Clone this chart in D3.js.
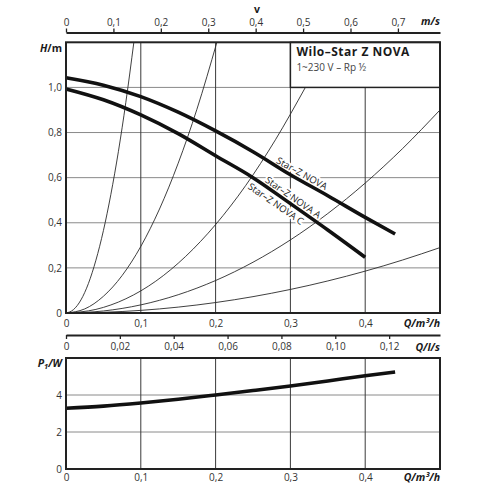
<!DOCTYPE html>
<html>
<head>
<meta charset="utf-8">
<script src="https://cdn.jsdelivr.net/npm/d3@7"></script>
<style>
  body { margin: 0; background: #fff; }
  text { font-family: "Open Sans", "Noto Sans", sans-serif; }
  .tick text { font-size: 10px; fill: #333; }
  .unit { font-size: 10.5px; font-weight: bold; fill: #1a1a1a; }
</style>
</head>
<body>
<script>
// pump curves H(Q)
const pumpQ = [0, 0.05, 0.1, 0.15, 0.2, 0.25, 0.3, 0.35, 0.4, 0.44];
const headNova = [1.043, 1.01, 0.959, 0.89, 0.807, 0.715, 0.613, 0.52, 0.424, 0.35];
const pumpQAC = [0, 0.05, 0.1, 0.15, 0.2, 0.25, 0.3, 0.35, 0.4];
const headNovaAC = [0.993, 0.945, 0.878, 0.795, 0.697, 0.6, 0.485, 0.368, 0.247];

// system curves (thin lines)
const sys1Q = [0, 0.01, 0.02, 0.03, 0.04, 0.05, 0.06, 0.07, 0.08, 0.0907];
const sys1H = [0, 0.015, 0.058, 0.131, 0.234, 0.365, 0.526, 0.715, 0.934, 1.2];
const sys2Q = [0, 0.025, 0.05, 0.075, 0.1, 0.125, 0.15, 0.175, 0.2017];
const sys2H = [0, 0.018, 0.074, 0.166, 0.295, 0.461, 0.664, 0.903, 1.2];
const sys3Q = [0, 0.04, 0.08, 0.12, 0.16, 0.2, 0.24, 0.28, 0.32];
const sys3H = [0, 0.016, 0.063, 0.141, 0.251, 0.392, 0.564, 0.768, 1.0];
const sys4Q = [0, 0.05, 0.1, 0.15, 0.2, 0.25, 0.3, 0.35, 0.4, 0.45, 0.5];
const sys4H = [0, 0.009, 0.036, 0.081, 0.144, 0.225, 0.324, 0.441, 0.576, 0.729, 0.9];
const sys5Q = [0, 0.05, 0.1, 0.15, 0.2, 0.25, 0.3, 0.35, 0.4, 0.45, 0.5];
const sys5H = [0, 0.003, 0.0116, 0.0261, 0.0464, 0.0725, 0.1044, 0.1421, 0.1856, 0.2349, 0.29];

// power curve P1(Q)
const powerQ = [0, 0.05, 0.1, 0.15, 0.2, 0.25, 0.3, 0.35, 0.4, 0.44];
const powerW = [3.28, 3.4, 3.57, 3.77, 4.0, 4.24, 4.49, 4.76, 5.04, 5.24];

// ticks
const qTicks = [0, 0.1, 0.2, 0.3, 0.4];
const hTicks = [0, 0.2, 0.4, 0.6, 0.8, 1.0];
const vTicks = [0, 0.1, 0.2, 0.3, 0.4, 0.5, 0.6, 0.7];
const lsTicks = [0, 0.02, 0.04, 0.06, 0.08, 0.10, 0.12];
const pTicks = [0, 2, 4];
const curveNames = ["Star–Z NOVA", "Star–Z NOVA A", "Star–Z NOVA C"];

const width = 500;
const height = 500;
const left = 66, right = 440;
const topH = 42.3, bottomH = 313;
const topP = 358, bottomP = 469;

const fmt = d3.formatLocale({ decimal: ",", thousands: ".", grouping: [3], currency: ["", ""] });
const dec = n => d => d === 0 ? "0" : fmt.format("." + n + "f")(d);

const svg = d3
    .select("body")
    .append("svg")
    .attr("width", width)
    .attr("height", height);

const x = d3.scaleLinear().domain([0, 0.5]).range([left, right]);
const y = d3.scaleLinear().domain([0, 1.2]).range([bottomH, topH]);
const yP = d3.scaleLinear().domain([0, 6]).range([bottomP, topP]);
const xV = d3.scaleLinear().domain([0, 0.5 * 1.5775]).range([left, right]);
const xLs = d3.scaleLinear().domain([0, 0.5 / 3.6]).range([left, right]);

svg.append("clipPath").attr("id", "clipH")
    .append("rect")
    .attr("x", left).attr("y", topH)
    .attr("width", right - left).attr("height", bottomH - topH);

// grid, top chart
svg.append("g")
    .selectAll("line")
    .data(hTicks.slice(1))
    .enter()
    .append("line")
    .attr("x1", left).attr("x2", right)
    .attr("y1", d => y(d)).attr("y2", d => y(d))
    .attr("stroke", "#8a8a8a")
    .attr("stroke-width", 1);

svg.append("g")
    .selectAll("line")
    .data(qTicks.slice(1))
    .enter()
    .append("line")
    .attr("x1", d => x(d)).attr("x2", d => x(d))
    .attr("y1", topH).attr("y2", bottomH)
    .attr("stroke", "#3a3a3a")
    .attr("stroke-width", 1);

// system curves
const lineH = d3.line()
    .x(d => x(d[0]))
    .y(d => y(d[1]))
    .curve(d3.curveMonotoneX);

const systems = [[sys1Q, sys1H], [sys2Q, sys2H], [sys3Q, sys3H], [sys4Q, sys4H], [sys5Q, sys5H]];

svg.append("g")
    .attr("clip-path", "url(#clipH)")
    .selectAll("path")
    .data(systems)
    .enter()
    .append("path")
    .attr("d", s => lineH(d3.zip(s[0], s[1])))
    .attr("fill", "none")
    .attr("stroke", "#2a2a2a")
    .attr("stroke-width", 0.9);

// curve labels: placed on a curve, rotated to its slope, shifted off it
function along(qs, hs, q) {
    const i = Math.min(d3.bisectRight(qs, q), qs.length - 1);
    const t = (q - qs[i - 1]) / (qs[i] - qs[i - 1]);
    return hs[i - 1] + t * (hs[i] - hs[i - 1]);
}

const labelSpec = [
    { qs: pumpQ, hs: headNova, q: 0.311, off: -6.8 },
    { qs: pumpQAC, hs: headNovaAC, q: 0.2985, off: -6.8 },
    { qs: pumpQAC, hs: headNovaAC, q: 0.287, off: 8.3 }
];

labelSpec.forEach(s => {
    const px = x(s.q), py = y(along(s.qs, s.hs, s.q));
    const dx = x(s.q + 0.01) - x(s.q - 0.01);
    const dy = y(along(s.qs, s.hs, s.q + 0.01)) - y(along(s.qs, s.hs, s.q - 0.01));
    s.tr = "translate(" + px + "," + py + ") rotate(" + (Math.atan2(dy, dx) * 180 / Math.PI) + ")";
});

svg.append("g")
    .selectAll("text")
    .data(curveNames)
    .enter()
    .append("text")
    .attr("transform", (d, i) => labelSpec[i].tr)
    .attr("y", (d, i) => labelSpec[i].off)
    .attr("text-anchor", "middle")
    .attr("dominant-baseline", "central")
    .attr("font-size", "9.5px")
    .attr("fill", "#222")
    .attr("stroke", "#fff")
    .attr("stroke-width", 4)
    .attr("stroke-linejoin", "round")
    .style("paint-order", "stroke")
    .text(d => d);

// pump curves
svg.append("path")
    .attr("d", lineH(d3.zip(pumpQ, headNova)))
    .attr("fill", "none")
    .attr("stroke", "#111")
    .attr("stroke-width", 3.6);

svg.append("path")
    .attr("d", lineH(d3.zip(pumpQAC, headNovaAC)))
    .attr("fill", "none")
    .attr("stroke", "#111")
    .attr("stroke-width", 3.6);

// info box
svg.append("rect")
    .attr("x", x(0.3)).attr("y", topH)
    .attr("width", right - x(0.3)).attr("height", y(1.0) - topH)
    .attr("fill", "#fff")
    .attr("stroke", "#222")
    .attr("stroke-width", 1.5);

svg.append("text")
    .attr("x", x(0.3) + 6).attr("y", 56)
    .attr("font-size", "12px")
    .attr("letter-spacing", "0.5px")
    .attr("font-weight", "bold")
    .attr("fill", "#1a1a1a")
    .text("Wilo–Star Z NOVA");

svg.append("text")
    .attr("x", x(0.3) + 6).attr("y", 71)
    .attr("font-size", "10px")
    .attr("fill", "#444")
    .text("1~230 V – Rp ½");

// frame, top chart
svg.append("rect")
    .attr("x", left).attr("y", topH)
    .attr("width", right - left).attr("height", bottomH - topH)
    .attr("fill", "none")
    .attr("stroke", "#222")
    .attr("stroke-width", 2);

// axes, top chart
const axQ = svg.append("g")
    .attr("transform", "translate(0," + bottomH + ")")
    .call(d3.axisBottom(x).tickValues(qTicks).tickSize(0).tickPadding(7).tickFormat(dec(1)));
axQ.select(".domain").remove();

const axH = svg.append("g")
    .attr("transform", "translate(" + left + ",0)")
    .call(d3.axisLeft(y).tickValues(hTicks).tickSize(0).tickPadding(4).tickFormat(dec(1)));
axH.select(".domain").remove();

const axV = svg.append("g")
    .attr("transform", "translate(0,32.5)")
    .call(d3.axisTop(xV).tickValues(vTicks).tickSize(4).tickSizeOuter(0).tickPadding(2.5).tickFormat(dec(1)));
axV.select(".domain").attr("stroke", "#222").attr("stroke-width", 2);
axV.selectAll(".tick line").attr("stroke", "#222").attr("stroke-width", 1.3);

const axLs = svg.append("g")
    .attr("transform", "translate(0,335)")
    .call(d3.axisBottom(xLs).tickValues(lsTicks).tickSize(4).tickSizeOuter(0).tickPadding(4).tickFormat(dec(2)));
axLs.select(".domain").attr("stroke", "#222").attr("stroke-width", 2);
axLs.selectAll(".tick line").attr("stroke", "#222").attr("stroke-width", 1.3);

// bottom chart
svg.append("g")
    .selectAll("line")
    .data(pTicks.slice(1))
    .enter()
    .append("line")
    .attr("x1", left).attr("x2", right)
    .attr("y1", d => yP(d)).attr("y2", d => yP(d))
    .attr("stroke", "#8a8a8a")
    .attr("stroke-width", 1);

svg.append("g")
    .selectAll("line")
    .data(qTicks.slice(1))
    .enter()
    .append("line")
    .attr("x1", d => x(d)).attr("x2", d => x(d))
    .attr("y1", topP).attr("y2", bottomP)
    .attr("stroke", "#3a3a3a")
    .attr("stroke-width", 1);

const lineP = d3.line()
    .x(d => x(d[0]))
    .y(d => yP(d[1]))
    .curve(d3.curveMonotoneX);

svg.append("path")
    .attr("d", lineP(d3.zip(powerQ, powerW)))
    .attr("fill", "none")
    .attr("stroke", "#111")
    .attr("stroke-width", 3.6);

svg.append("rect")
    .attr("x", left).attr("y", topP)
    .attr("width", right - left).attr("height", bottomP - topP)
    .attr("fill", "none")
    .attr("stroke", "#222")
    .attr("stroke-width", 2);

const axQ2 = svg.append("g")
    .attr("transform", "translate(0," + bottomP + ")")
    .call(d3.axisBottom(x).tickValues(qTicks).tickSize(0).tickPadding(5).tickFormat(dec(1)));
axQ2.select(".domain").remove();

const axP = svg.append("g")
    .attr("transform", "translate(" + left + ",0)")
    .call(d3.axisLeft(yP).tickValues(pTicks).tickSize(0).tickPadding(4).tickFormat(d3.format("d")));
axP.select(".domain").remove();

// unit labels
function unit(xp, yp, anchor, parts) {
    const t = svg.append("text")
        .attr("class", "unit")
        .attr("x", xp).attr("y", yp)
        .attr("text-anchor", anchor);
    parts.forEach(p => {
        const s = t.append("tspan").text(p.t);
        if (p.i) s.attr("font-style", "italic");
        if (p.sub) s.attr("font-size", "7.5px").attr("dy", 2);
        if (p.up) s.attr("dy", -2);
    });
}

unit(62, 52, "end", [{ t: "H", i: true }, { t: "/m" }]);
unit(440, 25, "end", [{ t: "m/s", i: true }]);
unit(257, 13, "middle", [{ t: "v" }]);
unit(440, 327, "end", [{ t: "Q", i: true }, { t: "/m³/h", i: true }]);
unit(440, 351, "end", [{ t: "Q", i: true }, { t: "/l/s", i: true }]);
unit(62, 367, "end", [{ t: "P", i: true }, { t: "1", sub: true, i: true }, { t: "/W", up: true, i: true }]);
unit(440, 481, "end", [{ t: "Q", i: true }, { t: "/m³/h", i: true }]);
</script>
</body>
</html>
